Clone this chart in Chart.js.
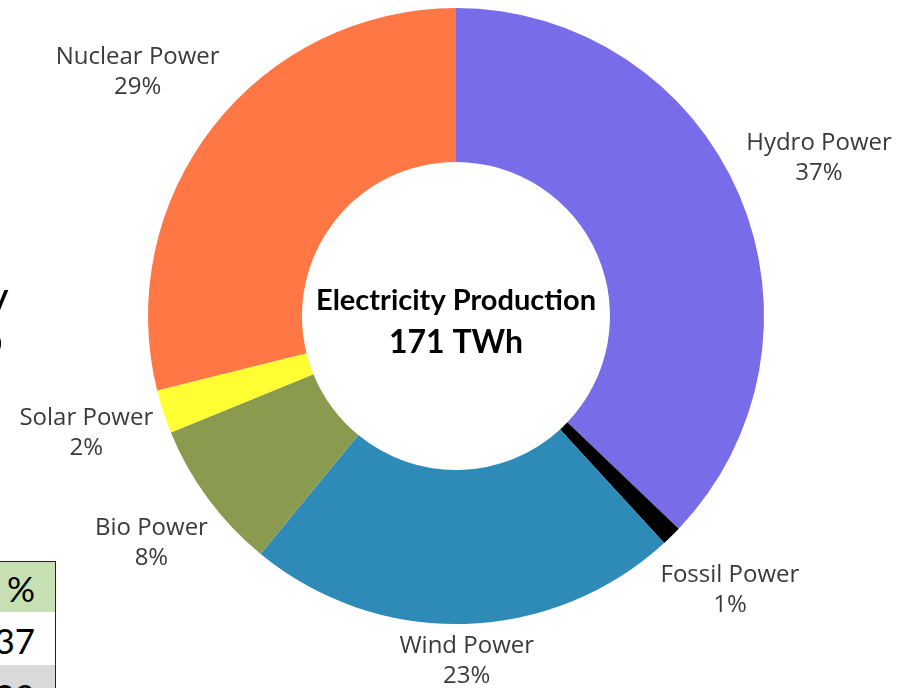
<!DOCTYPE html>
<html>
<head>
<meta charset="utf-8">
<script src="https://cdn.jsdelivr.net/npm/chart.js@4/dist/chart.umd.min.js"></script>
<style>
  body { margin: 0; background: #fff; overflow: hidden; }
  #wrap { position: relative; width: 897px; height: 688px; }
  #myChart { position: absolute; left: 0; top: 0; }
  .frag { position: absolute; font-family: Lato, sans-serif; color: #000; }
  .cell { position: absolute; left: -20px; width: 76px; border: 1.5px solid #222; font-family: Lato, sans-serif;
          font-size: 35px; text-align: right; padding-right: 20px; box-sizing: border-box; line-height: 1; }
</style>
</head>
<body>
<div id="wrap">
  <canvas id="myChart" width="897" height="688"></canvas>
  <!-- bits of the neighbouring slide that show at the left edge -->
  <div class="frag" style="left:-14px; top:270px; font-size:44px;">y</div>
  <div class="frag" style="left:-22px; top:312px; font-size:44px;">o</div>
  <div class="cell" style="top:561px; height:52px; background:#c6e0b4; padding-top:9px;">%</div>
  <div class="cell" style="top:612px; height:54px; background:#fff; padding-top:11px; border-top:none;">37</div>
  <div class="cell" style="top:665px; height:40px; background:#d9d9d9; padding-top:14px; border-top:none;">29</div>
</div>
<script>
var categories = ['Hydro Power', 'Fossil Power', 'Wind Power', 'Bio Power', 'Solar Power', 'Nuclear Power'];
var production = [63.5, 1.8, 38.9, 13.5, 3.9, 49.4]; // TWh
var sliceColors = ['#786ce8', '#000000', '#2e8bb8', '#8a9a4e', '#ffff33', '#ff7744'];
var centerTitle = 'Electricity Production';
var centerTotal = '171 TWh';

var total = production.reduce(function (a, b) { return a + b; }, 0);

// labels outside each slice: name + share, near edge kept close to the ring
var outerLabels = {
    id: 'outerLabels',
    afterDatasetsDraw: function (chart) {
        var ctx = chart.ctx;
        var meta = chart.getDatasetMeta(0);
        ctx.save();
        ctx.fillStyle = '#3a3a3a';
        ctx.font = '24px "Open Sans"';
        ctx.textAlign = 'center';
        ctx.textBaseline = 'middle';
        meta.data.forEach(function (arc, i) {
            var mid = (arc.startAngle + arc.endAngle) / 2;
            var pct = Math.round(production[i] / total * 100) + '%';
            var w = Math.max(ctx.measureText(categories[i]).width, ctx.measureText(pct).width);
            var lx = arc.x + Math.cos(mid) * (arc.outerRadius + 14 + w / 2);
            var ly = arc.y - 4 + Math.sin(mid) * (arc.outerRadius + 82);
            ly = Math.min(ly, chart.height - 27);
            ctx.fillText(categories[i], lx, ly - 15);
            ctx.fillText(pct, lx, ly + 15);
        });
        // centre text
        var a = meta.data[0];
        ctx.fillStyle = '#000';
        ctx.font = 'bold 29px Lato';
        ctx.fillText(centerTitle, a.x, a.y - 15);
        ctx.font = 'bold 32px Lato';
        ctx.fillText(centerTotal, a.x, a.y + 27);
        ctx.restore();
    }
};

var ctx = document.getElementById('myChart').getContext('2d');

var chart = new Chart(ctx, {
    type: 'doughnut',
    data: {
        labels: categories,
        datasets: [{
            data: production,
            backgroundColor: sliceColors,
            borderWidth: 0
        }]
    },
    options: {
        responsive: false,
        animation: false,
        cutout: '50%',
        layout: { padding: { left: 100, right: 85, top: 8, bottom: 64 } },
        plugins: {
            legend: { display: false },
            tooltip: { enabled: false }
        }
    },
    plugins: [outerLabels]
});
</script>
</body>
</html>
